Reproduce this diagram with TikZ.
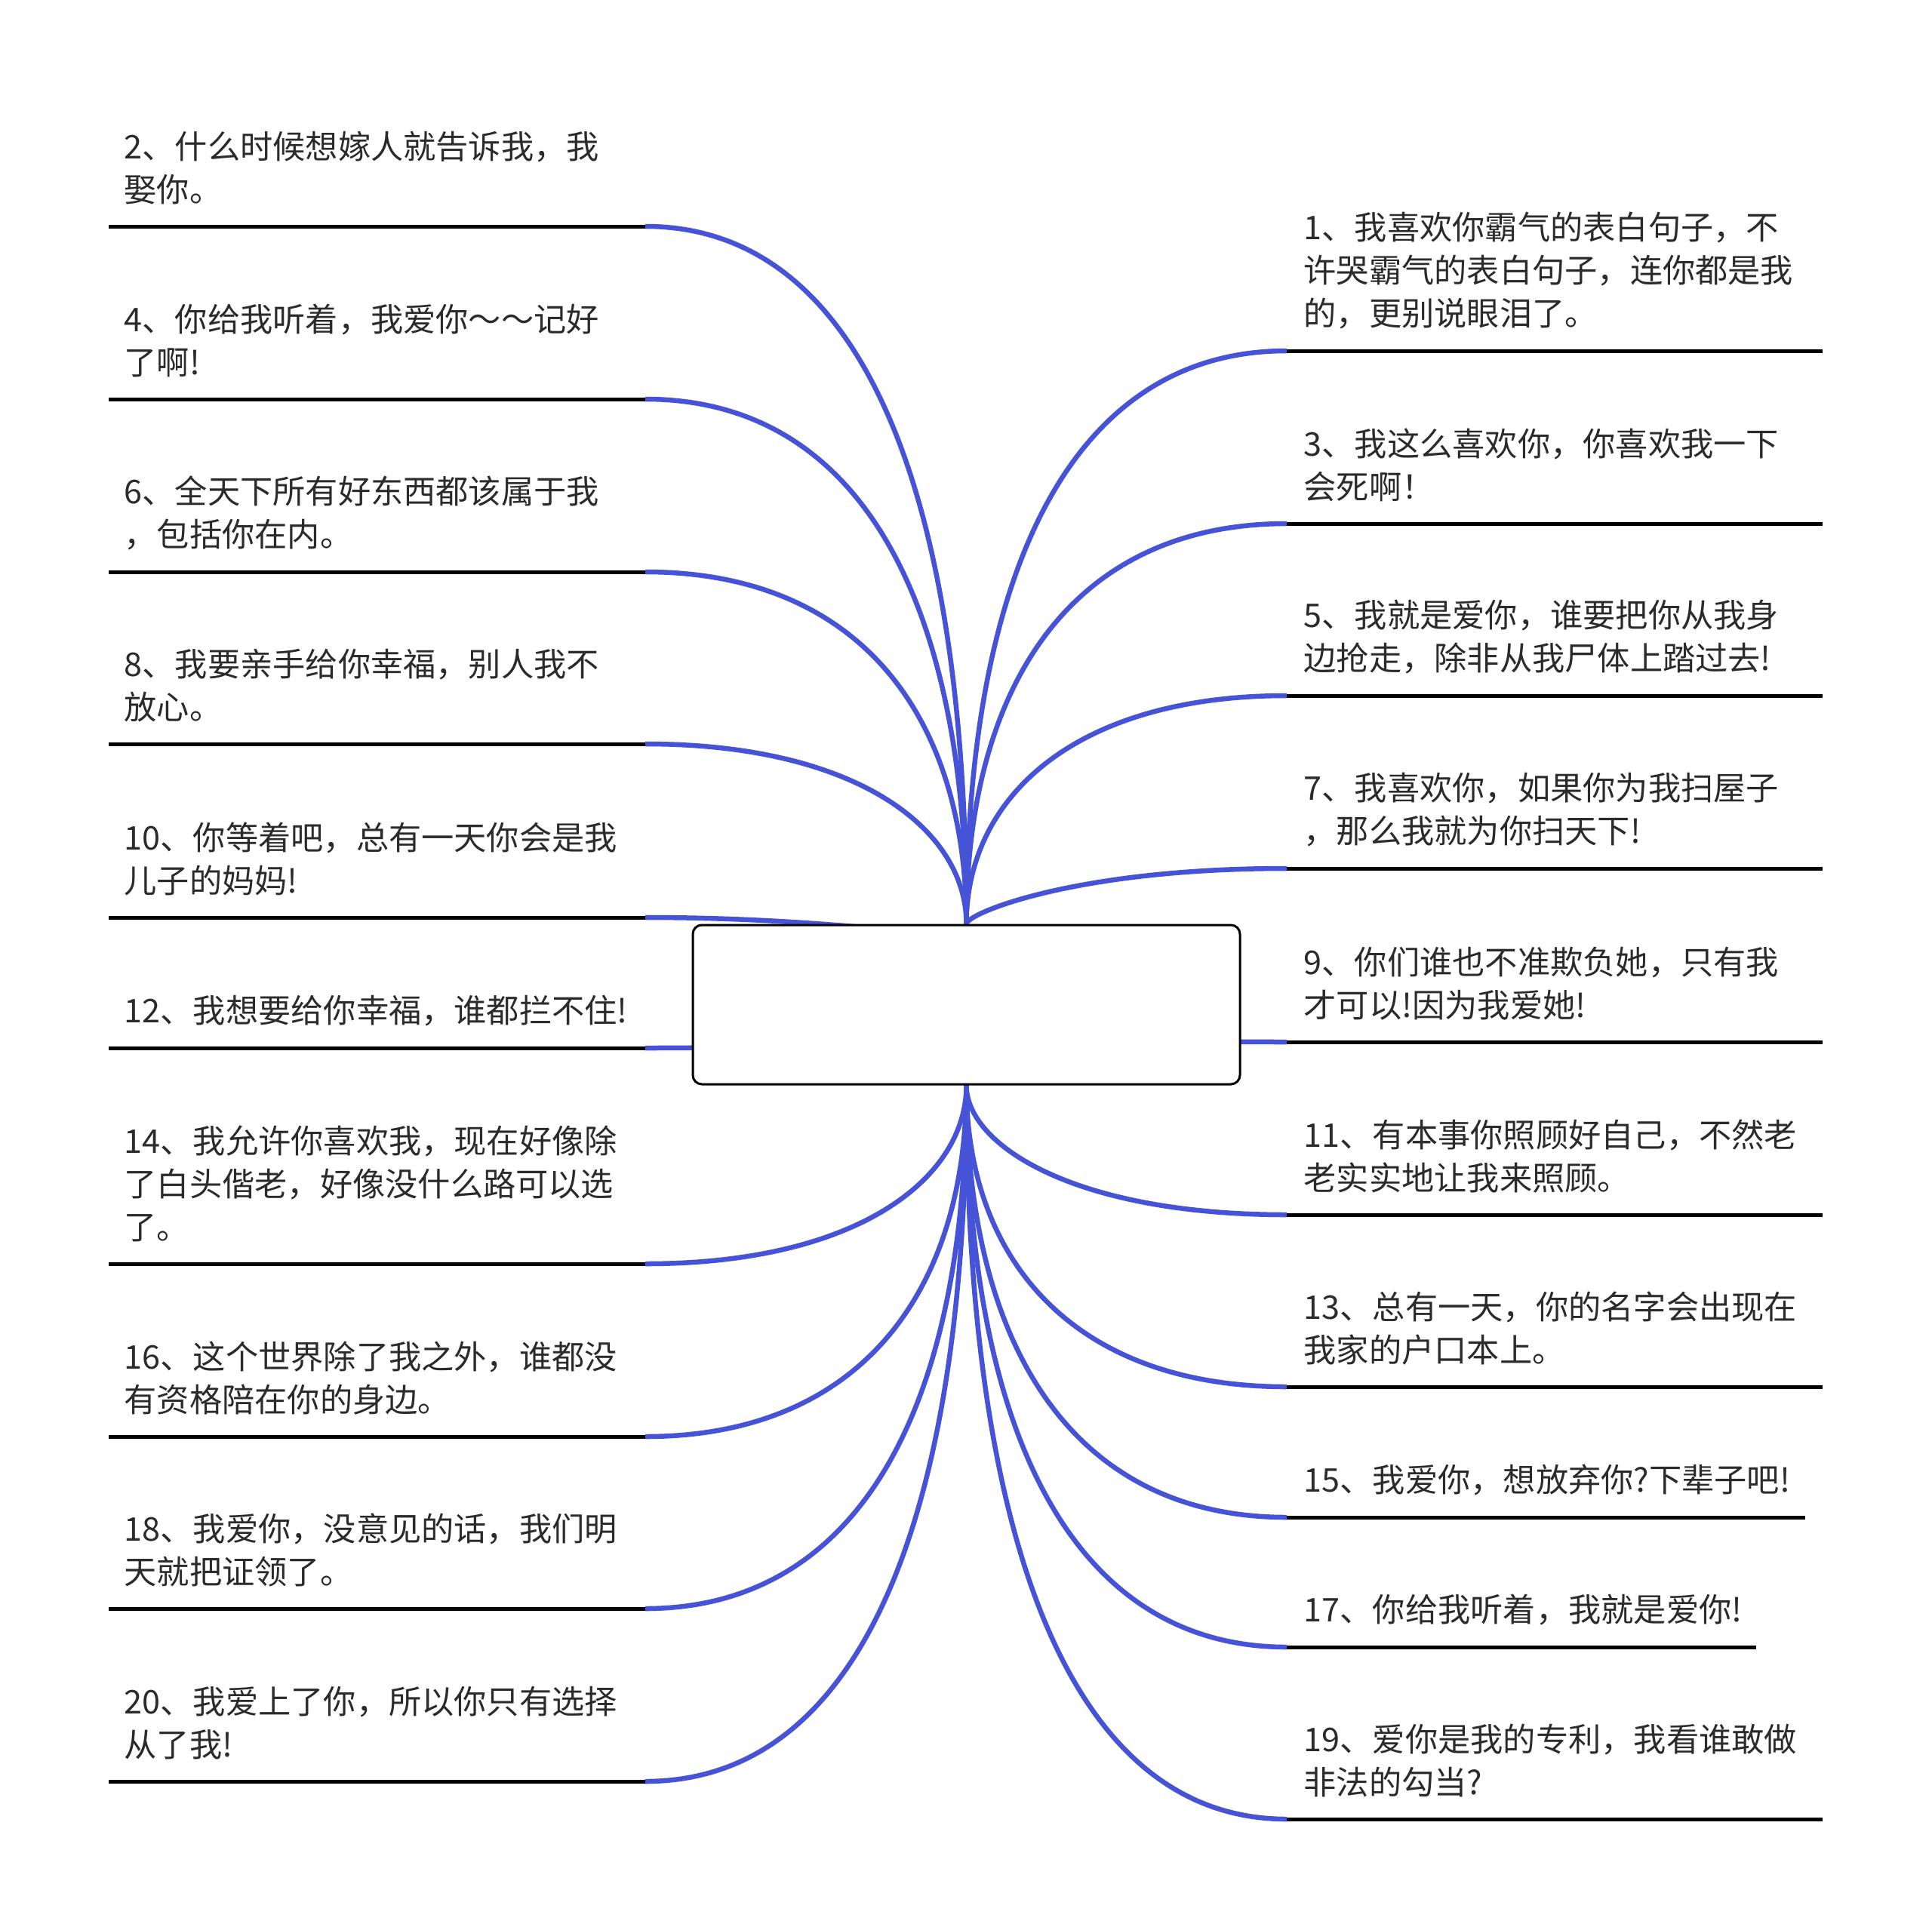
\documentclass[tikz,border=0pt]{standalone}
\usepackage{fontspec}
\usepackage{tikz}
\usetikzlibrary{calc,backgrounds}
\newfontfamily\cjk{Noto Sans CJK SC}
\definecolor{link}{HTML}{4753D6}
\definecolor{ink}{HTML}{2B2B2B}

\tikzset{
  rootbox/.style={draw=black,line width=0.03cm,fill=white,rounded corners=0.12cm,
    minimum width=7.25cm,minimum height=2.11cm,inner sep=0pt},
  uline/.style={line width=0.05cm,black},
  branch/.style={line width=0.065cm,link},
  leaf/.style={anchor=south west,inner sep=0pt,align=left,text=ink,
    font=\cjk\fontsize{12.3pt}{16.2pt}\selectfont},
}

\begin{document}
\begin{tikzpicture}
  \useasboundingbox (0,0) rectangle (25.6,-25.57);
  \node[rootbox] (root) at (12.805,-13.315) {};
  % left side
  \coordinate (l2) at (8.55,-3.00);
  \coordinate (l4) at (8.55,-5.29);
  \coordinate (l6) at (8.55,-7.58);
  \coordinate (l8) at (8.55,-9.86);
  \coordinate (l10) at (8.55,-12.16);
  \coordinate (l12) at (8.55,-13.89);
  \coordinate (l14) at (8.55,-16.75);
  \coordinate (l16) at (8.55,-19.04);
  \coordinate (l18) at (8.55,-21.32);
  \coordinate (l20) at (8.55,-23.61);
  \foreach \n in {l2,l4,l6,l8,l10,l12,l14,l16,l18,l20} \draw[uline] (\n) -- +(-7.11,0);
  \node[leaf] (t2) at (1.64,-2.72) {2、什么时候想嫁人就告诉我，我\\娶你。};
  \node[leaf] (t4) at (1.64,-5.01) {4、你给我听着，我爱你～～记好\\了啊!};
  \node[leaf] (t6) at (1.64,-7.30) {6、全天下所有好东西都该属于我\\，包括你在内。};
  \node[leaf] (t8) at (1.64,-9.58) {8、我要亲手给你幸福，别人我不\\放心。};
  \node[leaf] (t10) at (1.64,-11.88) {10、你等着吧，总有一天你会是我\\儿子的妈妈!};
  \node[leaf] (t12) at (1.64,-13.61) {12、我想要给你幸福，谁都拦不住!};
  \node[leaf] (t14) at (1.64,-16.47) {14、我允许你喜欢我，现在好像除\\了白头偕老，好像没什么路可以选\\了。};
  \node[leaf] (t16) at (1.64,-18.76) {16、这个世界除了我之外，谁都没\\有资格陪在你的身边。};
  \node[leaf] (t18) at (1.64,-21.04) {18、我爱你，没意见的话，我们明\\天就把证领了。};
  \node[leaf] (t20) at (1.64,-23.33) {20、我爱上了你，所以你只有选择\\从了我!};
  % right side
  \coordinate (r1) at (17.05,-4.65);
  \coordinate (r3) at (17.05,-6.94);
  \coordinate (r5) at (17.05,-9.22);
  \coordinate (r7) at (17.05,-11.51);
  \coordinate (r9) at (17.05,-13.81);
  \coordinate (r11) at (17.05,-16.10);
  \coordinate (r13) at (17.05,-18.38);
  \coordinate (r15) at (17.05,-20.11);
  \coordinate (r17) at (17.05,-21.83);
  \coordinate (r19) at (17.05,-24.11);
  \foreach \n in {r1,r3,r5,r7,r9,r11,r13,r19} \draw[uline] (\n) -- +(7.10,0);
  \draw[uline] (r15) -- +(6.87,0);
  \draw[uline] (r17) -- +(6.22,0);
  \node[leaf] (t1) at (17.27,-4.37) {1、我喜欢你霸气的表白句子，不\\许哭霸气的表白句子，连你都是我\\的，更别说眼泪了。};
  \node[leaf] (t3) at (17.27,-6.66) {3、我这么喜欢你，你喜欢我一下\\会死啊！};
  \node[leaf] (t5) at (17.27,-8.94) {5、我就是爱你，谁要把你从我身\\边抢走，除非从我尸体上踏过去!};
  \node[leaf] (t7) at (17.27,-11.23) {7、我喜欢你，如果你为我扫屋子\\，那么我就为你扫天下!};
  \node[leaf] (t9) at (17.27,-13.53) {9、你们谁也不准欺负她，只有我\\才可以!因为我爱她!};
  \node[leaf] (t11) at (17.27,-15.82) {11、有本事你照顾好自己，不然老\\老实实地让我来照顾。};
  \node[leaf] (t13) at (17.27,-18.10) {13、总有一天，你的名字会出现在\\我家的户口本上。};
  \node[leaf] (t15) at (17.27,-19.83) {15、我爱你，想放弃你?下辈子吧!};
  \node[leaf] (t17) at (17.27,-21.55) {17、你给我听着，我就是爱你!};
  \node[leaf] (t19) at (17.27,-23.83) {19、爱你是我的专利，我看谁敢做\\非法的勾当?};
  % branches go under the root box
  \begin{scope}[on background layer]
    \fill[white] (0,0) rectangle (25.6,-25.57);
    \foreach \n in {l2,l4,l6,l8,l10,l12,l14,l16,l18,l20,r1,r3,r5,r7,r9,r11,r13,r15,r17,r19}
      \draw[branch] (\n) .. controls ($(\n)!2/3!(\n -| root)$) and ($(root)!2/3!(\n -| root)$) .. (root);
  \end{scope}
\end{tikzpicture}
\end{document}
